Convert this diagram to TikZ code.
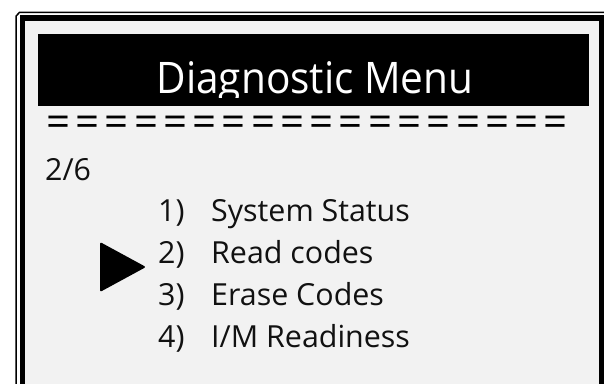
\documentclass[tikz,border=0pt]{standalone}
\usepackage{fontspec}
\setmainfont{Open Sans}
\newfontfamily\titlefont[FakeStretch=0.932]{Open Sans}
\definecolor{panel}{HTML}{F2F2F2}
\definecolor{ink}{HTML}{111111}
\tikzset{
  bodytext/.style={anchor=base west, inner sep=0pt, text=ink, font=\fontsize{30.4}{36}\selectfont},
  eqsign/.style={anchor=base, inner sep=0pt, text=black, font=\fontsize{42}{48}\selectfont},
}
\begin{document}
\begin{tikzpicture}[x=1pt,y=-1pt]
  \useasboundingbox (0,0) rectangle (604,383);
  % outer thin rim with chamfered corner
  \draw[line width=1.5pt] (16.2,400) -- (16.2,16) -- (19.5,12.3) -- (620,12.3);
  % thick bezel and screen
  \fill[black] (19.5,14.5) rectangle (620,400);
  \fill[panel] (25,20.5) rectangle (599,400);
  % title bar
  \node[fill=black, minimum width=551pt, minimum height=72pt, inner sep=0pt, anchor=north west] (title) at (38,34) {};
  \begin{scope}
    \clip (38,34) rectangle (589,97.5);
    \node[anchor=base, inner sep=0pt, text=white, font=\titlefont\fontsize{43.5}{50}\selectfont] (titletext) at (315,93.3) {Diagnostic Menu};
  \end{scope}
  % separator row
  \foreach \i in {0,...,17}{
    \node[eqsign] (eq\i) at ({58.5+\i*29.25},136) {=};
  }
  % page counter
  \node[bodytext] (page) at (45,180) {2/6};
  % menu entries
  \node[bodytext] (n1) at (158,221.7) {1)};
  \node[bodytext] (t1) at (211,221.7) {System Status};
  \node[bodytext] (n2) at (158,263.7) {2)};
  \node[bodytext] (t2) at (211,263.7) {Read codes};
  \node[bodytext] (n3) at (158,305.7) {3)};
  \node[bodytext] (t3) at (211,305.7) {Erase Codes};
  \node[bodytext] (n4) at (158,347.7) {4)};
  \node[bodytext] (t4) at (211,347.7) {I/M Readiness};
  % selection cursor
  \fill[black, rounded corners=2pt] (100,242) -- (146,267) -- (100,292) -- cycle;
\end{tikzpicture}
\end{document}
